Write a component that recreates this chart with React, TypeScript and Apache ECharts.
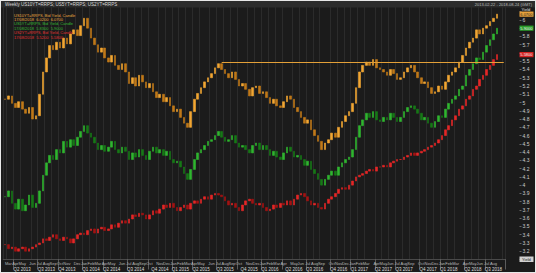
import React, { useEffect, useRef } from 'react';
import * as echarts from 'echarts';

// ---- data (weekly chart, sampled every two weeks) ----
const START_DATE = '2013-02-22';
const STEP_DAYS = 14;
const PAD_PERIODS = 2;

const SERIES_NAMES = ['US10YT=RRPS', 'US5YT=RRPS', 'US2YT=RRPS'];

const orangeClose = [
  5.04, 5.08, 4.99, 4.94, 5.01, 4.92, 4.87, 4.94, 4.80, 4.84,
  5.10, 5.37, 5.54, 5.69, 5.64, 5.73, 5.66, 5.78, 5.71, 5.83,
  5.88, 5.81, 5.93, 6.02, 5.90, 5.78, 5.70, 5.61, 5.66, 5.54,
  5.49, 5.57, 5.45, 5.40, 5.47, 5.37, 5.23, 5.30, 5.20, 5.33,
  5.25, 5.18, 5.23, 5.13, 5.06, 5.10, 5.01, 5.06, 4.96, 4.89,
  4.92, 4.82, 4.75, 4.70, 4.89, 5.04, 5.11, 5.18, 5.25, 5.30,
  5.35, 5.42, 5.47, 5.40, 5.35, 5.30, 5.37, 5.28, 5.20, 5.23,
  5.16, 5.08, 5.18, 5.20, 5.11, 5.13, 5.06, 4.99, 5.04, 4.96,
  4.94, 5.01, 5.08, 5.04, 4.94, 4.89, 4.82, 4.75, 4.79, 4.67,
  4.60, 4.53, 4.43, 4.51, 4.55, 4.63, 4.58, 4.70, 4.77, 4.84,
  4.89, 4.99, 5.18, 5.37, 5.45, 5.49, 5.45, 5.52, 5.42, 5.40,
  5.37, 5.33, 5.40, 5.35, 5.28, 5.30, 5.37, 5.42, 5.45, 5.37,
  5.30, 5.23, 5.25, 5.18, 5.11, 5.13, 5.20, 5.16, 5.25, 5.33,
  5.37, 5.42, 5.49, 5.57, 5.66, 5.73, 5.78, 5.88, 5.83, 5.90,
  5.93, 5.98, 6.02, 6.07,
];

const greenClose = [
  3.86, 3.93, 3.78, 3.71, 3.83, 3.69, 3.76, 3.88, 3.73, 3.78,
  3.93, 4.12, 4.27, 4.36, 4.31, 4.43, 4.39, 4.53, 4.46, 4.55,
  4.48, 4.58, 4.65, 4.72, 4.63, 4.58, 4.51, 4.43, 4.48, 4.41,
  4.46, 4.53, 4.43, 4.39, 4.46, 4.41, 4.31, 4.39, 4.34, 4.43,
  4.36, 4.31, 4.41, 4.46, 4.39, 4.43, 4.36, 4.41, 4.31, 4.27,
  4.29, 4.22, 4.14, 4.07, 4.19, 4.31, 4.39, 4.43, 4.48, 4.53,
  4.55, 4.60, 4.65, 4.58, 4.53, 4.55, 4.60, 4.51, 4.46, 4.48,
  4.43, 4.39, 4.48, 4.51, 4.43, 4.48, 4.43, 4.36, 4.41, 4.34,
  4.31, 4.39, 4.46, 4.41, 4.34, 4.36, 4.31, 4.24, 4.29, 4.19,
  4.14, 4.07, 4.00, 4.07, 4.12, 4.17, 4.12, 4.22, 4.27, 4.31,
  4.34, 4.43, 4.58, 4.72, 4.79, 4.87, 4.82, 4.89, 4.79, 4.77,
  4.82, 4.79, 4.87, 4.82, 4.77, 4.82, 4.89, 4.94, 4.96, 4.92,
  4.87, 4.79, 4.82, 4.75, 4.70, 4.77, 4.84, 4.82, 4.92, 4.99,
  5.04, 5.08, 5.16, 5.20, 5.33, 5.40, 5.47, 5.54, 5.52, 5.61,
  5.69, 5.76, 5.83, 5.90,
];

const redClose = [
  3.28, 3.23, 3.25, 3.20, 3.23, 3.25, 3.20, 3.23, 3.25, 3.28,
  3.30, 3.35, 3.33, 3.37, 3.40, 3.35, 3.33, 3.37, 3.35, 3.30,
  3.35, 3.40, 3.42, 3.40, 3.45, 3.47, 3.42, 3.47, 3.49, 3.45,
  3.47, 3.52, 3.49, 3.54, 3.57, 3.54, 3.59, 3.64, 3.62, 3.66,
  3.64, 3.59, 3.64, 3.69, 3.66, 3.71, 3.76, 3.73, 3.78, 3.73,
  3.69, 3.73, 3.76, 3.71, 3.78, 3.81, 3.78, 3.83, 3.86, 3.83,
  3.88, 3.90, 3.88, 3.86, 3.81, 3.76, 3.78, 3.73, 3.69, 3.76,
  3.81, 3.83, 3.78, 3.76, 3.78, 3.73, 3.69, 3.71, 3.76, 3.73,
  3.78, 3.76, 3.81, 3.76, 3.83, 3.88, 3.90, 3.86, 3.81, 3.76,
  3.78, 3.73, 3.71, 3.78, 3.83, 3.86, 3.90, 3.95, 3.97, 3.95,
  4.00, 4.05, 4.10, 4.12, 4.14, 4.17, 4.19, 4.17, 4.22, 4.22,
  4.24, 4.22, 4.27, 4.29, 4.31, 4.31, 4.34, 4.36, 4.39, 4.36,
  4.39, 4.41, 4.43, 4.46, 4.48, 4.51, 4.55, 4.60, 4.67, 4.72,
  4.79, 4.84, 4.92, 4.96, 5.04, 5.08, 5.16, 5.20, 5.28, 5.33,
  5.40, 5.45, 5.52, 5.58,
];

// horizontal level line drawn on the orange series
const LEVEL_VALUE = 5.49;
const LEVEL_START_INDEX = 63;

// right value axis
const Y_MIN = 3.1;
const Y_MAX = 6.2;
const Y_STEP = 0.1;
const Y_LABEL_MIN = 3.15;
const Y_LABEL_MAX = 6.05;

const MONTHS = ['Jan', 'Feb', 'Mar', 'Apr', 'May', 'Jun', 'Jul', 'Aug', 'Sep', 'Oct', 'Nov', 'Dec'];

const TITLE = 'Weekly US10YT=RRPS; US5YT=RRPS; US2YT=RRPS';
const RANGE_TEXT = '2013-02-22 - 2018-08-24 (GMT)';

// ---- helpers ----
function buildDates(n: number): string[] {
  const t0 = Date.parse(START_DATE + 'T00:00:00Z');
  const out: string[] = [];
  for (let i = 0; i < n; i++) {
    out.push(new Date(t0 + i * STEP_DAYS * 86400000).toISOString().slice(0, 10));
  }
  return out;
}

function toCandles(closes: number[]) {
  return closes.map((c, i) => {
    const o = i === 0 ? c : closes[i - 1];
    return [o, c, Math.min(o, c), Math.max(o, c)];
  });
}

const W = 534;
const H = 271;
const FONT = 'Liberation Sans, Arial, sans-serif';
const GRID_RIGHT = 29.5;
const AXIS_OFFSET = 14;

export default function App() {
  const ref = useRef<HTMLDivElement>(null);

  useEffect(() => {
    if (!ref.current) return;
    const chart = echarts.init(ref.current, null, { renderer: 'svg' });
    const dates = buildDates(orangeClose.length + PAD_PERIODS);
    const monthOf = (s: string) => Number(s.slice(5, 7)) - 1;
    const monthStart = dates.map((d, i) => i === 0 || monthOf(d) !== monthOf(dates[i - 1]));
    const quarterStart = dates.map((d, i) => monthStart[i] && i > 0 && monthOf(d) % 3 === 0);

    const last = (a: number[]) => a[a.length - 1];
    const tagValues = [last(orangeClose), last(greenClose), last(redClose)];

    const candle = (name: string, closes: number[], up: string, down: string, extra: any = {}) => ({
      name,
      type: 'candlestick',
      data: toCandles(closes),
      barWidth: '62%',
      itemStyle: { color: up, color0: down, borderColor: up, borderColor0: down, borderWidth: 0.6 },
      ...extra,
    });

    chart.setOption({
      animation: false,
      backgroundColor: '#1b1b1b',
      grid: { left: 2.28, right: GRID_RIGHT, top: 2.4, bottom: 11.3, containLabel: false },
      xAxis: {
        type: 'category',
        data: dates,
        boundaryGap: true,
        axisLine: { show: true, lineStyle: { color: '#4a4a4a', width: 1 } },
        axisTick: {
          show: true,
          interval: (i: number) => quarterStart[i],
          length: 10,
          lineStyle: { color: '#8a8a8a', width: 0.6 },
        },
        splitLine: {
          show: true,
          interval: (i: number) => monthStart[i],
          lineStyle: { color: '#2b2b2b', width: 1 },
        },
        axisLabel: {
          interval: (i: number) => monthStart[i],
          margin: 1.5,
          formatter: (v: string) => {
            const m = monthOf(v);
            const y = v.slice(0, 4);
            const mm = `{m|${MONTHS[m]}}`;
            if (m % 3 === 1) return `${mm}\n{q|Q${Math.floor(m / 3) + 1} ${y}}`;
            return mm;
          },
          rich: {
            m: { fontSize: 4, color: '#b8b8b8', fontFamily: FONT, lineHeight: 5.5 },
            q: { fontSize: 4.5, color: '#dcdcdc', fontFamily: FONT, lineHeight: 6 },
          },
          verticalAlign: 'top',
        },
      },
      yAxis: {
        type: 'value',
        position: 'right',
        offset: AXIS_OFFSET,
        min: Y_MIN,
        max: Y_MAX,
        interval: Y_STEP,
        axisLine: { show: false },
        axisTick: { show: true, length: 2, lineStyle: { color: '#9a9a9a', width: 0.6 } },
        splitLine: { show: false },
        axisLabel: {
          margin: 3,
          fontSize: 5,
          color: '#cfcfcf',
          fontFamily: FONT,
          formatter: (v: number) => {
            if (v > Y_LABEL_MAX || v < Y_LABEL_MIN) return '';
            if (tagValues.some((t) => Math.abs(t - v) < 0.06)) return '';
            return String(Math.round(v * 10) / 10);
          },
        },
      },
      series: [
        candle(SERIES_NAMES[0], orangeClose, '#f2a633', '#c07818', {
          markLine: {
            silent: true,
            symbol: ['none', 'none'],
            label: { show: false },
            lineStyle: { color: '#e3a038', width: 1, type: 'solid' },
            data: [[{ coord: [LEVEL_START_INDEX, LEVEL_VALUE] }, { coord: [dates.length - 1, LEVEL_VALUE] }]],
          },
        }),
        candle(SERIES_NAMES[1], greenClose, '#2fb52f', '#167816'),
        candle(SERIES_NAMES[2], redClose, '#e52626', '#a31212'),
      ],
    });

    const yPix = (v: number) => chart.convertToPixel({ yAxisIndex: 0 }, v) as number;
    const axisX = W - GRID_RIGHT + AXIS_OFFSET;

    const tag = (v: number, fill: string, textFill: string) => {
      const y = yPix(v);
      return [
        { type: 'rect', z: 20, shape: { x: axisX, y: y - 2.6, width: 14, height: 5.2 }, style: { fill } },
        {
          type: 'text', z: 21, x: axisX + 0.8, y: y - 2.1,
          style: { text: v.toFixed(4), fill: textFill, fontSize: 4, fontFamily: FONT },
        },
      ];
    };

    const lastDate = dates[orangeClose.length - 1].split('-').reverse().join('/');
    const legend = [
      { t: `${SERIES_NAMES[0]}, Bid Yield, Candle`, c: '#e8a640' },
      { t: `${lastDate}  ${orangeClose[142].toFixed(4)}  ${last(orangeClose).toFixed(4)}`, c: '#e8a640' },
      { t: `${SERIES_NAMES[1]}, Bid Yield, Candle`, c: '#33b533' },
      { t: `${lastDate}  ${greenClose[142].toFixed(4)}  ${last(greenClose).toFixed(4)}`, c: '#33b533' },
      { t: `${SERIES_NAMES[2]}, Bid Yield, Candle`, c: '#e03030' },
      { t: `${lastDate}  ${redClose[142].toFixed(4)}  ${last(redClose).toFixed(4)}`, c: '#e03030' },
    ];

    const elements: any[] = [
      { type: 'rect', z: 10, shape: { x: 0, y: 0, width: W, height: 6.5 }, style: { fill: '#2c2c2c' } },
      {
        type: 'text', z: 11, x: 4, y: 1,
        style: { text: TITLE, fill: '#d8d8d8', fontSize: 4.5, fontFamily: FONT },
      },
      {
        type: 'text', z: 11, x: W - 3, y: 1,
        style: { text: RANGE_TEXT, fill: '#bdbdbd', fontSize: 4, fontFamily: FONT, align: 'right' },
      },
      {
        type: 'text', z: 11, x: axisX + 2, y: 6.6,
        style: { text: 'Yield', fill: '#e0e0e0', fontSize: 4, fontFamily: FONT },
      },
      { type: 'rect', z: 20, shape: { x: axisX, y: H - 15.5, width: 14, height: 5.5 }, style: { fill: '#d0d0d0' } },
      {
        type: 'text', z: 21, x: axisX + 2.5, y: H - 14.8,
        style: { text: 'Yield', fill: '#222', fontSize: 4, fontFamily: FONT },
      },
      ...legend.map((l, i) => ({
        type: 'text', z: 11, x: 13, y: 12 + i * 4.4,
        style: { text: l.t, fill: l.c, fontSize: 4, fontFamily: FONT },
      })),
      ...tag(tagValues[0], '#e9a23b', '#222'),
      ...tag(tagValues[1], '#2a9d2a', '#f0f0f0'),
      ...tag(tagValues[2], '#d42222', '#f0f0f0'),
    ];

    chart.setOption({ graphic: { elements } });

    return () => chart.dispose();
  }, []);

  return (
    <div
      style={{
        position: 'fixed', left: 0, top: 0, width: 536, height: 273,
        background: '#e8e8e8', boxSizing: 'border-box',
      }}
    >
      <div ref={ref} style={{ position: 'absolute', left: 1, top: 1, width: W, height: H }} />
    </div>
  );
}
